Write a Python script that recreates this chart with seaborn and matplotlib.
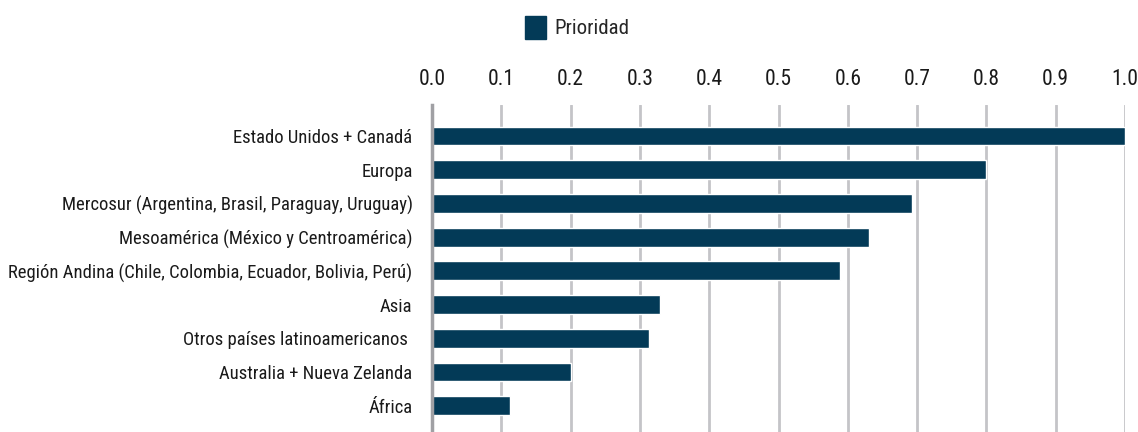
import numpy as np
import pandas as pd
import matplotlib
matplotlib.use("Agg")
import matplotlib.pyplot as plt
import seaborn as sns

# data
regiones = [
    "Estado Unidos + Canadá",
    "Europa",
    "Mercosur (Argentina, Brasil, Paraguay, Uruguay)",
    "Mesoamérica (México y Centroamérica)",
    "Región Andina (Chile, Colombia, Ecuador, Bolivia, Perú)",
    "Asia",
    "Otros países latinoamericanos ",
    "Australia + Nueva Zelanda",
    "África",
]
prioridad = [1.0, 0.80, 0.693, 0.631, 0.589, 0.329, 0.313, 0.200, 0.112]
ticks = [0.0, 0.1, 0.2, 0.3, 0.4, 0.5, 0.6, 0.7, 0.8, 0.9, 1.0]

df = pd.DataFrame({"Región": regiones, "Prioridad": prioridad})

sns.set_style("white")
plt.rcParams['font.family'] = ['Roboto Condensed', 'DejaVu Sans']
plt.rcParams['font.stretch'] = 'condensed'

navy = "#033a57"

fig = plt.figure(figsize=(11.38, 4.32), dpi=100)
ax = fig.add_axes([0.3796, 0.0, 0.6090, 0.757])

sns.barplot(data=df, x="Prioridad", y="Región", orient="h", color=navy,
            width=0.56, saturation=1, ax=ax, label="Prioridad")

ax.set_xlim(0, 1.0)
ax.set_ylim(8.78, -0.92)
ax.set_xticks(ticks)
ax.set_xticklabels([f"{t:.1f}" for t in ticks])
ax.xaxis.tick_top()
ax.tick_params(axis="x", length=0, pad=11, labelsize=15.5, colors="#1a1a1a")
ax.tick_params(axis="y", length=0, pad=14, labelsize=13.4, colors="#1a1a1a")
ax.set_xlabel("")
ax.set_ylabel("")

ax.grid(axis="x", color="#c4c4c8", linewidth=2)
ax.set_axisbelow(True)
for s in ["top", "right", "bottom"]:
    ax.spines[s].set_visible(False)
ax.spines["left"].set_color("#a0a0a4")
ax.spines["left"].set_linewidth(2.5)

if ax.get_legend() is not None:
    ax.get_legend().remove()
handles = [plt.Rectangle((0, 0), 1, 1, color=navy)]
fig.legend(handles, ["Prioridad"], loc="center", bbox_to_anchor=(0.507, 0.937),
           frameon=False, fontsize=15, handlelength=1.0, handleheight=1.3,
           handletextpad=0.4)

fig.savefig("out.png", dpi=100)
